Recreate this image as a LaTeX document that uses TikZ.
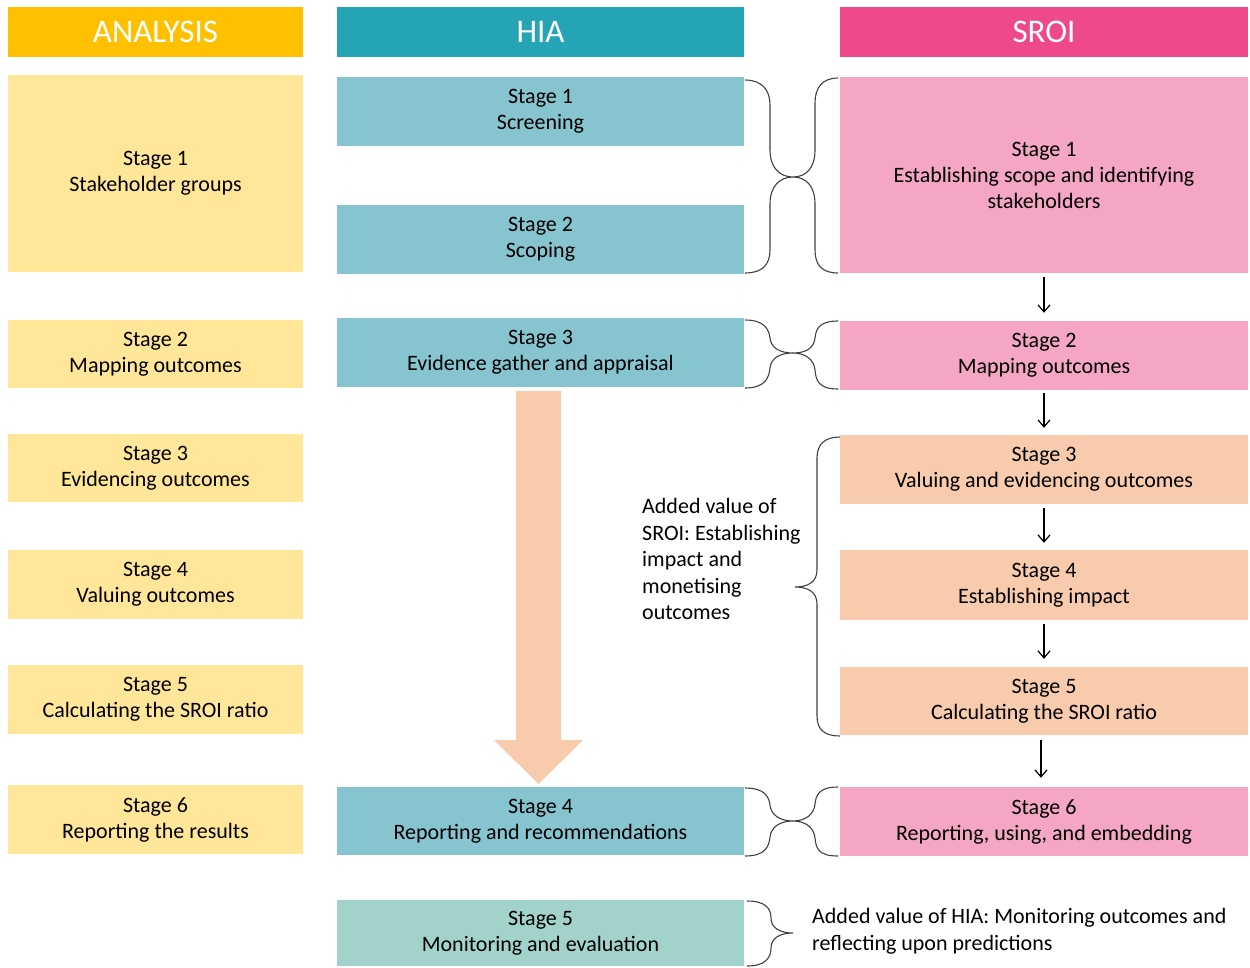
\documentclass[tikz,border=0pt]{standalone}
\usepackage{fontspec}
\setmainfont{Carlito}
\usetikzlibrary{arrows.meta,calc}
\definecolor{anaH}{HTML}{FFC000}
\definecolor{anaB}{HTML}{FFE699}
\definecolor{hiaH}{HTML}{25A4B6}
\definecolor{hiaB}{HTML}{86C5CF}
\definecolor{hiaG}{HTML}{A1D2CB}
\definecolor{sroiH}{HTML}{EE4A8A}
\definecolor{sroiB}{HTML}{F5A6C4}
\definecolor{peach}{HTML}{F8CBAD}
\definecolor{brace}{HTML}{404040}
\tikzset{
  box/.style={rectangle, draw=none, inner sep=0pt, align=center, text=black,
    font=\fontsize{22}{26}\selectfont},
  head/.style={rectangle, draw=none, inner sep=0pt, align=center, text=white,
    font=\fontsize{33}{36}\selectfont, minimum height=50pt},
  anab/.style={box, fill=anaB, minimum width=295pt},
  hiab/.style={box, fill=hiaB, minimum width=407pt},
  sroib/.style={box, minimum width=408pt},
  brc/.style={draw=brace, line width=1.1pt},
  flow/.style={draw=black, line width=1.2pt, -{Straight Barb[length=7pt,width=12pt,line width=1.2pt]}},
  note/.style={inner sep=0pt, align=left, font=\fontsize{22}{26.5}\selectfont}
}
\begin{document}
\begin{tikzpicture}[x=1pt,y=-1pt]
\useasboundingbox (0,0) rectangle (1250,967);
% headers
\node[head, fill=anaH, minimum width=295pt] (a0) at (155.5,32) {ANALYSIS};
\node[head, fill=hiaH, minimum width=407pt] (h0) at (540.5,32) {HIA};
\node[head, fill=sroiH, minimum width=408pt] (s0) at (1044,32) {SROI};
% analysis
\node[anab, minimum height=197pt] (a1) at (155.5,173.5) {Stage 1\\Stakeholder groups};
\node[anab, minimum height=68pt] (a2) at (155.5,354) {Stage 2\\Mapping outcomes};
\node[anab, minimum height=68pt] (a3) at (155.5,468) {Stage 3\\Evidencing outcomes};
\node[anab, minimum height=69pt] (a4) at (155.5,584.5) {Stage 4\\Valuing outcomes};
\node[anab, minimum height=69pt] (a5) at (155.5,699.5) {Stage 5\\Calculating the SROI ratio};
\node[anab, minimum height=69pt] (a6) at (155.5,819.5) {Stage 6\\Reporting the results};
% HIA
\node[hiab, minimum height=69pt] (h1) at (540.5,111.5) {Stage 1\\Screening};
\node[hiab, minimum height=69pt] (h2) at (540.5,239.5) {Stage 2\\Scoping};
\node[hiab, minimum height=69pt] (h3) at (540.5,352.5) {Stage 3\\Evidence gather and appraisal};
\node[hiab, minimum height=68pt] (h4) at (540.5,821) {Stage 4\\Reporting and recommendations};
\node[box, fill=hiaG, minimum width=407pt, minimum height=66pt] (h5) at (540.5,933) {Stage 5\\Monitoring and evaluation};
% SROI
\node[sroib, fill=sroiB, minimum height=196pt] (s1) at (1044,175) {Stage 1\\Establishing scope and identifying\\stakeholders};
\node[sroib, fill=sroiB, minimum height=69pt] (s2) at (1044,355.5) {Stage 2\\Mapping outcomes};
\node[sroib, fill=peach, minimum height=69pt] (s3) at (1044,469.5) {Stage 3\\Valuing and evidencing outcomes};
\node[sroib, fill=peach, minimum height=70pt] (s4) at (1044,585) {Stage 4\\Establishing impact};
\node[sroib, fill=peach, minimum height=68pt] (s5) at (1044,701) {Stage 5\\Calculating the SROI ratio};
\node[sroib, fill=sroiB, minimum height=69pt] (s6) at (1044,821.5) {Stage 6\\Reporting, using, and embedding};
% SROI arrows
\draw[flow, shorten <=4pt, shorten >=8pt] (s1.south) -- (s2.north);
\draw[flow, shorten <=3pt, shorten >=7pt] (s2.south) -- (s3.north);
\draw[flow, shorten <=4pt, shorten >=7pt] (s3.south) -- (s4.north);
\draw[flow, shorten <=4pt, shorten >=8pt] (s4.south) -- (s5.north);
\draw[flow, shorten <=5pt, shorten >=9pt] ($(s5.south)+(-3,0)$) -- ($(s6.north)+(-3,0)$);
% big arrow
\fill[peach] (516,391) -- (561,391) -- (561,740) -- (583,740) -- (538.5,784) -- (494,740) -- (516,740) -- cycle;
% braces stage 1
\draw[brc] (745,80) .. controls (762,80) and (770,90) .. (770,105) -- (770,150)
  .. controls (770,168) and (780,177) .. (793,177)
  .. controls (780,177) and (770,186) .. (770,204) -- (770,250)
  .. controls (770,265) and (762,273) .. (745,273);
\draw[brc] (838,78) .. controls (822,78) and (815,88) .. (815,103) -- (815,150)
  .. controls (815,168) and (806,177) .. (793,177)
  .. controls (806,177) and (815,186) .. (815,204) -- (815,250)
  .. controls (815,265) and (822,273) .. (838,273);
% braces stage 3 / 2
\draw[brc] (745,320) .. controls (765,320) and (769,330) .. (770,338)
  .. controls (771,348) and (780,353) .. (793,353)
  .. controls (780,353) and (771,358) .. (770,368)
  .. controls (769,378) and (765,388) .. (745,388);
\draw[brc] (838,321) .. controls (818,321) and (816,330) .. (815,338)
  .. controls (814,348) and (806,353) .. (793,353)
  .. controls (806,353) and (814,360) .. (815,370)
  .. controls (816,380) and (818,389) .. (838,389);
% braces stage 4 / 6
\draw[brc] (745,788) .. controls (765,788) and (769,797) .. (770,805)
  .. controls (771,815) and (780,821) .. (793,821)
  .. controls (780,821) and (771,827) .. (770,837)
  .. controls (769,847) and (765,856) .. (745,856);
\draw[brc] (838,787) .. controls (818,787) and (816,796) .. (815,804)
  .. controls (814,814) and (806,821) .. (793,821)
  .. controls (806,821) and (814,828) .. (815,838)
  .. controls (816,848) and (818,856) .. (838,856);
% bottom HIA brace
\draw[brc] (747,901) .. controls (765,901) and (771,908) .. (771,918)
  .. controls (771,928) and (780,933) .. (793,933)
  .. controls (780,933) and (771,938) .. (771,948)
  .. controls (771,958) and (765,966) .. (747,966);
% big SROI brace
\draw[brc] (840,437) .. controls (825,437) and (817,444) .. (817,458) -- (817,570)
  .. controls (817,582) and (808,587) .. (795,587)
  .. controls (808,587) and (817,592) .. (817,604) -- (817,716)
  .. controls (817,730) and (825,736) .. (840,736);
% notes
\node[note, anchor=west] (n1) at (642,559) {Added value of\\SROI: Establishing\\impact and\\monetising\\outcomes};
\node[note, anchor=west] (n2) at (812,931) {Added value of HIA: Monitoring outcomes and\\reflecting upon predictions};
\end{tikzpicture}
\end{document}
